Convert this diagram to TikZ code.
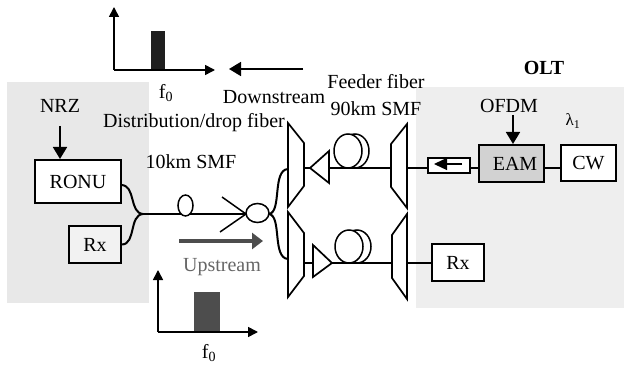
\documentclass[tikz,border=0pt]{standalone}
\usepackage{fontspec}
\setmainfont{Liberation Serif}
\usetikzlibrary{arrows.meta}
\tikzset{
    boxnode/.style={draw, line width=2pt, inner sep=0pt, font=\fontsize{20}{22}\selectfont},
    lbl/.style={inner sep=0pt, font=\fontsize{20}{22}\selectfont},
    fiber/.style={line width=2pt},
    sig/.style={line width=1.7pt, -{Triangle[length=12pt,width=14pt]}},
    axis/.style={line width=1.6pt, -{Triangle[length=10pt,width=10pt]}},
    mux/.style={draw, line width=1.7pt, fill=white, line join=miter},
    coil/.style={line width=1.5pt},
}
\definecolor{onugray}{HTML}{E8E8E8}
\definecolor{oltgray}{HTML}{EEEEEE}
\definecolor{eamgray}{HTML}{D2D2D2}
\definecolor{upgray}{HTML}{4D4D4D}
\begin{document}
\begin{tikzpicture}[x=1pt,y=-1pt]
    \useasboundingbox (0,0) rectangle (624,366);
    % Background areas
    \fill[onugray] (7,82) rectangle (149,303);
    \fill[oltgray] (416,87) rectangle (624,308);

    % Downstream spectrum
    \fill[black!88] (151,31) rectangle (165,70);
    \coordinate (orgA) at (114,70);
    \coordinate (topA) at (114,7);
    \coordinate (endA) at (215,70);
    \draw[axis] (orgA) -- (topA);
    \draw[axis] (orgA) -- (endA);
    \node[lbl] (fA) at (166,93) {f\textsubscript{0}};

    % Upstream spectrum
    \fill[upgray] (194,292) rectangle (220,332);
    \coordinate (orgB) at (158,332);
    \coordinate (topB) at (158,270);
    \coordinate (endB) at (258,332);
    \draw[axis] (orgB) -- (topB);
    \draw[axis] (orgB) -- (endB);
    \node[lbl] (fB) at (209,353) {f\textsubscript{0}};

    % Direction arrows
    \coordinate (dsA) at (303,69);
    \coordinate (dsB) at (229,69);
    \draw[sig] (dsA) -- (dsB);
    \coordinate (usA) at (179,241);
    \coordinate (usB) at (263,241);
    \draw[upgray, line width=4.5pt, -{Triangle[length=11pt,width=16pt]}] (usA) -- (usB);

    % Texts
    \node[lbl] (nrz) at (60,106) {NRZ};
    \node[lbl] (downstream) at (274,97) {Downstream};
    \node[lbl] (distfiber) at (194,123) {Distribution/drop fiber};
    \node[lbl] (tenkm) at (191,162) {10km SMF};
    \node[lbl] (feeder) at (376,82) {Feeder fiber};
    \node[lbl] (ninetykm) at (376,109) {90km SMF};
    \node[lbl, text=black!60] (upstream) at (222,267) {Upstream};
    \node[lbl] (ofdm) at (509,106) {OFDM};
    \node[lbl, font=\fontsize{20}{22}\selectfont\bfseries] (olt) at (544,68) {OLT};
    \node[lbl, font=\fontsize{17}{18}\selectfont] (lambda) at (573,121) {λ\textsubscript{1}};

    % Boxes
    \node[boxnode, fill=white, minimum width=86pt, minimum height=43pt] (ronu) at (78,181.5) {RONU\hspace{8pt}};
    \node[boxnode, fill=black!5, minimum width=52pt, minimum height=37pt] (rxa) at (95,244.5) {Rx};
    \node[boxnode, fill=white, minimum width=52pt, minimum height=37pt] (rxb) at (458,262.5) {Rx};
    \node[boxnode, fill=eamgray, minimum width=65pt, minimum height=37pt] (eam) at (511.5,163.5) {\hspace{7pt}EAM};
    \node[boxnode, fill=white, minimum width=55pt, minimum height=36pt] (cw) at (588.5,163) {CW};
    \node[draw, line width=1.6pt, fill=white, inner sep=0pt, minimum width=42pt, minimum height=15pt] (iso) at (449,165.5) {};

    % Modulation arrows
    \coordinate (nrzin) at (60,126);
    \coordinate (ofdmin) at (513,115);
    \draw[sig] (nrzin) -- (ronu.north -| nrzin);
    \draw[sig] (ofdmin) -- (eam.north -| ofdmin);
    \coordinate (isoA) at (462,164);
    \coordinate (isoB) at (434,164);
    \draw[line width=1.3pt, -{Triangle[length=13pt,width=12pt]}] (isoA) -- (isoB);

    % Mux and demux
    \draw[mux] (288,123) -- (304,143) -- (304,186) -- (288,207) -- cycle;
    \draw[mux] (288,212) -- (304,233) -- (304,276) -- (288,297) -- cycle;
    \draw[mux] (407,124) -- (391,144) -- (391,187) -- (407,208) -- cycle;
    \draw[mux] (407,214) -- (392,235) -- (392,278) -- (407,299) -- cycle;
    \coordinate (muxA) at (304,168);
    \coordinate (muxB) at (304,263);
    \coordinate (demuxAl) at (391,168);
    \coordinate (demuxAr) at (407,168);
    \coordinate (demuxBl) at (392,263);
    \coordinate (demuxBr) at (407,263);
    \coordinate (muxAin) at (288,169);
    \coordinate (muxBin) at (288,259);

    % Amplifiers
    \draw[mux] (310,168) -- (329,151) -- (329,183) -- cycle;
    \draw[mux] (332,263) -- (313,245) -- (313,277) -- cycle;
    \coordinate (ampAl) at (310,168);
    \coordinate (ampAr) at (329,168);
    \coordinate (ampBl) at (313,263);
    \coordinate (ampBr) at (332,263);

    % Fiber coils
    \draw[coil] (355,151) ellipse (14pt and 17pt);
    \draw[coil, fill=white] (348,151) ellipse (14pt and 17pt);
    \draw[coil] (357,246.5) ellipse (14pt and 16.5pt);
    \draw[coil, fill=white] (349,246.5) ellipse (14pt and 16.5pt);

    % Fiber links
    \draw[fiber] (muxA) -- (ampAl);
    \draw[fiber] (ampAr) -- (demuxAl);
    \draw[fiber] (demuxAr) -- (iso.west |- demuxAr);
    \draw[fiber] (iso.east |- demuxAr) -- (eam.west |- demuxAr);
    \draw[fiber] (eam.east |- demuxAr) -- (cw.west |- demuxAr);
    \draw[fiber] (muxB) -- (ampBl);
    \draw[fiber] (ampBr) -- (demuxBl);
    \draw[fiber] (demuxBr) -- (demuxBr -| rxb.west);

    % Drop side
    \coordinate (ronuout) at (121,185);
    \coordinate (split) at (143,214);
    \coordinate (tapA) at (222,197);
    \coordinate (tapB) at (220,232);
    \coordinate (cpl) at (246,214);
    \coordinate (cplout) at (269,214);
    \draw[fiber] (ronuout) .. controls (136,185) and (129,213) .. (split);
    \draw[fiber] (rxa.east) .. controls (136,244) and (129,215) .. (split);
    \draw[fiber] (split) -- (cpl);
    \draw[coil] (tapA) -- (cpl);
    \draw[coil] (tapB) -- (cpl);
    \draw[coil, fill=white] (185.5,205.5) ellipse (7.5pt and 10.5pt);
    \draw[coil, fill=white] (257.5,213) ellipse (11.5pt and 9.5pt);
    \draw[fiber] (cplout) .. controls (282,212) and (272,170) .. (muxAin);
    \draw[fiber] (cplout) .. controls (282,216) and (272,258) .. (muxBin);
\end{tikzpicture}
\end{document}
